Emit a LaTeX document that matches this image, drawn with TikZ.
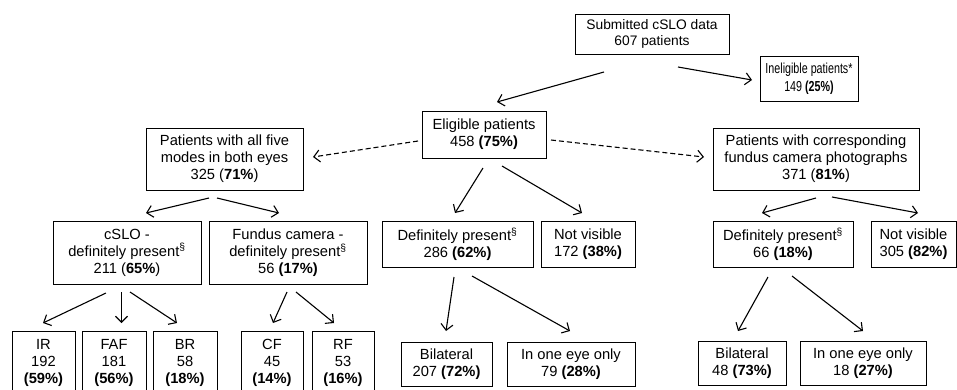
\documentclass[tikz,border=0pt]{standalone}
\usepackage{fontspec}
\setmainfont{Liberation Sans}
\newfontfamily\condensedfont[FakeStretch=0.74]{Liberation Sans}
\usetikzlibrary{arrows.meta}
\tikzset{
  box/.style={draw, line width=0.9pt, inner sep=0pt, outer sep=0pt, align=center,
    font=\fontsize{14.7}{17}\selectfont},
  arr/.style={line width=1.1pt, -{Straight Barb[length=6pt,width=12pt,line width=1.1pt]}},
  darr/.style={arr, dash pattern=on 5pt off 3pt},
}
\newcommand{\sect}{\textsuperscript{§}}
\begin{document}
\begin{tikzpicture}[x=1pt,y=-1pt]
\useasboundingbox (0,0) rectangle (957,389);
% row 1
\node[box, minimum width=154, minimum height=40, font=\fontsize{13.8}{16}\selectfont] (sub) at (652,34) {Submitted cSLO data\\607 patients};
\node[box, minimum width=98, minimum height=45, font=\condensedfont\fontsize{14.5}{18}\selectfont] (inel) at (809,78.5) {Ineligible patients*\\149 \textbf{(25\%)}};
% row 2
\node[box, minimum width=124, minimum height=47] (elig) at (484,134.5) {Eligible patients\\458 \textbf{(75\%)}};
\node[box, minimum width=157, minimum height=62] (five) at (224.5,159) {Patients with all five\\modes in both eyes\\325 (\textbf{71\%})};
\node[box, minimum width=206, minimum height=62] (corr) at (816,159) {Patients with corresponding\\fundus camera photographs\\371 (\textbf{81\%})};
% row 3
\node[box, minimum width=148, minimum height=63] (cslo) at (127,252.5) {cSLO -\\definitely present\sect\\211 (\textbf{65\%})};
\node[box, minimum width=158, minimum height=63] (fund) at (288,252.5) {Fundus camera -\\definitely present\sect\\56 \textbf{(17\%)}};
\node[box, minimum width=151, minimum height=46] (dpm) at (457.5,244) {Definitely present\sect\\286 \textbf{(62\%)}};
\node[box, minimum width=94, minimum height=46] (nvm) at (588,244) {Not visible\\172 \textbf{(38\%)}};
\node[box, minimum width=140, minimum height=46] (dpr) at (783,244) {Definitely present\sect\\66 \textbf{(18\%)}};
\node[box, minimum width=85, minimum height=46] (nvr) at (913.5,244) {Not visible\\305 \textbf{(82\%)}};
% row 4
\node[box, minimum width=63, minimum height=64] (ir) at (43.5,363) {IR\\192\\\textbf{(59\%)}};
\node[box, minimum width=64, minimum height=64] (faf) at (114,363) {FAF\\181\\\textbf{(56\%)}};
\node[box, minimum width=64, minimum height=64] (br) at (185,363) {BR\\58\\\textbf{(18\%)}};
\node[box, minimum width=62, minimum height=64] (cf) at (272,363) {CF\\45\\\textbf{(14\%)}};
\node[box, minimum width=62, minimum height=64] (rf) at (343,363) {RF\\53\\\textbf{(16\%)}};
\node[box, minimum width=91, minimum height=44] (bim) at (446.5,364) {Bilateral\\207 \textbf{(72\%)}};
\node[box, minimum width=128, minimum height=44] (onem) at (571,364) {In one eye only\\79 \textbf{(28\%)}};
\node[box, minimum width=88, minimum height=44] (bir) at (742,363) {Bilateral\\48 \textbf{(73\%)}};
\node[box, minimum width=126, minimum height=44] (oner) at (863,363) {In one eye only\\18 \textbf{(27\%)}};
% connectors
\draw[arr] ([shift={(-48,38)}]sub.center) -- ([shift={(13,-32.5)}]elig.center);
\draw[arr] ([shift={(26,33)}]sub.center) -- ([shift={(-57,1.5)}]inel.center);
\draw[darr] ([shift={(-66,6.5)}]elig.center) -- ([shift={(88.5,-2)}]five.center);
\draw[darr] ([shift={(67,5.5)}]elig.center) -- ([shift={(-112,-2)}]corr.center);
\draw[arr] ([shift={(-15.5,39)}]five.center) -- ([shift={(19,-39.5)}]cslo.center);
\draw[arr] ([shift={(-7.5,39)}]five.center) -- ([shift={(-9,-39.5)}]fund.center);
\draw[arr] ([shift={(-1,33.5)}]elig.center) -- ([shift={(-2.5,-31)}]dpm.center);
\draw[arr] ([shift={(18,31.5)}]elig.center) -- ([shift={(-6,-31)}]nvm.center);
\draw[arr] ([shift={(0,39)}]corr.center) -- ([shift={(-21,-31)}]dpr.center);
\draw[arr] ([shift={(16,38)}]corr.center) -- ([shift={(4.5,-31)}]nvr.center);
\draw[arr] ([shift={(-21,40.5)}]cslo.center) -- ([shift={(-0.5,-40)}]ir.center);
\draw[arr] ([shift={(-5.5,39.5)}]cslo.center) -- ([shift={(7.5,-40)}]faf.center);
\draw[arr] ([shift={(3,39.5)}]cslo.center) -- ([shift={(-8,-40)}]br.center);
\draw[arr] ([shift={(-1,39.5)}]fund.center) -- ([shift={(1,-40)}]cf.center);
\draw[arr] ([shift={(8,39.5)}]fund.center) -- ([shift={(-9,-40)}]rf.center);
\draw[arr] ([shift={(-3.5,33)}]dpm.center) -- ([shift={(-0.5,-33)}]bim.center);
\draw[arr] ([shift={(14.5,32)}]dpm.center) -- ([shift={(-1,-33)}]onem.center);
\draw[arr] ([shift={(-15,33)}]dpr.center) -- ([shift={(-4,-32)}]bir.center);
\draw[arr] ([shift={(9,32)}]dpr.center) -- ([shift={(0,-32)}]oner.center);
\end{tikzpicture}
\end{document}
